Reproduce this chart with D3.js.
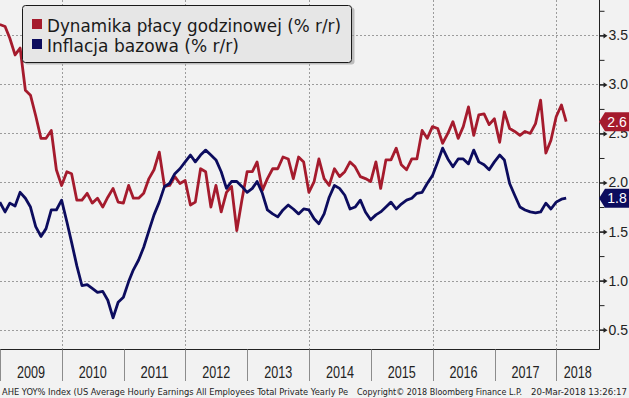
<!DOCTYPE html>
<html>
<head>
<meta charset="utf-8">
<script src="https://cdn.jsdelivr.net/npm/d3@7"></script>
<style>
  html, body { margin: 0; padding: 0; background: #f2f2f2; }
  svg { display: block; }
</style>
</head>
<body>
<svg id="chart" width="629" height="398"></svg>
<script>
// monthly observations, Dec 2008 .. Feb 2018 (plotted at month end)
const startYear = 2008, startMonth = 11;
const wages = [
  3.61, 3.59, 3.47, 3.30, 3.37, 2.94, 2.89, 2.68, 2.45, 2.45,
  2.53, 2.13, 1.97, 2.11, 2.09, 1.82, 1.82, 1.89, 1.79, 1.84,
  1.75, 1.85, 1.94, 1.80, 1.79, 1.97, 1.84, 1.84, 1.89, 2.04,
  2.13, 2.31, 1.96, 1.97, 2.06, 1.99, 2.02, 1.77, 1.80, 2.14,
  2.11, 1.75, 1.97, 1.70, 1.90, 1.96, 1.51, 1.82, 2.11, 2.11,
  2.21, 1.92, 2.04, 2.14, 2.14, 2.26, 2.24, 2.04, 2.26, 2.21,
  1.90, 2.01, 2.24, 2.04, 1.97, 2.14, 2.06, 2.11, 2.21, 2.16,
  2.06, 2.04, 2.01, 2.21, 1.94, 2.23, 2.23, 2.35, 2.18, 2.13,
  2.24, 2.24, 2.53, 2.45, 2.57, 2.55, 2.40, 2.50, 2.62, 2.45,
  2.57, 2.77, 2.48, 2.69, 2.70, 2.59, 2.65, 2.41, 2.72, 2.55,
  2.52, 2.48, 2.52, 2.50, 2.60, 2.84, 2.30, 2.43, 2.67, 2.79, 2.62
];
const coreCpi = [
  1.80, 1.70, 1.79, 1.76, 1.90, 1.84, 1.75, 1.55, 1.45, 1.53,
  1.72, 1.72, 1.82, 1.60, 1.39, 1.15, 0.95, 0.96, 0.92, 0.88,
  0.89, 0.80, 0.62, 0.78, 0.83, 0.99, 1.11, 1.21, 1.34, 1.51,
  1.67, 1.80, 1.96, 1.99, 2.09, 2.14, 2.21, 2.28, 2.21, 2.28,
  2.33, 2.28, 2.23, 2.11, 1.94, 2.01, 2.01, 1.96, 1.90, 1.94,
  2.01, 1.89, 1.72, 1.68, 1.65, 1.72, 1.77, 1.73, 1.68, 1.73,
  1.72, 1.63, 1.58, 1.68, 1.85, 1.97, 1.94, 1.87, 1.73, 1.75,
  1.82, 1.70, 1.62, 1.67, 1.70, 1.75, 1.80, 1.73, 1.78, 1.82,
  1.84, 1.89, 1.90, 1.99, 2.07, 2.21, 2.35, 2.24, 2.16, 2.24,
  2.24, 2.19, 2.33, 2.21, 2.18, 2.13, 2.21, 2.28, 2.23, 1.99,
  1.87, 1.75, 1.72, 1.70, 1.69, 1.70, 1.79, 1.73, 1.80, 1.83, 1.84
];
const seriesNames = ['Dynamika płacy godzinowej (% r/r)', 'Inflacja bazowa (% r/r)'];
const seriesColors = ['#a51b2d', '#0c0c5e'];
const yTicks = [0.5, 1.0, 1.5, 2.0, 2.5, 3.0, 3.5];
const yMinorTicks = [0.5, 0.75, 1.0, 1.25, 1.5, 1.75, 2.0, 2.25, 2.5, 2.75, 3.0, 3.25, 3.5, 3.75];
const years = [2009, 2010, 2011, 2012, 2013, 2014, 2015, 2016, 2017, 2018];
const footerLeft = 'AHE YOY% Index (US Average Hourly Earnings All Employees Total Private Yearly Pe';
const footerMid = 'Copyright\u00a9 2018 Bloomberg Finance L.P.';
const footerRight = '20-Mar-2018 13:26:17';

const plotRight = 599.5, plotBottom = 349.5;
const numFont = '"Liberation Sans", Arial, sans-serif';

const x = d3.scaleTime()
  .domain([new Date(2009, 0, 1), new Date(2018, 8, 10)])
  .range([0, 599]);
const y = d3.scaleLinear()
  .domain([0.3, 3.86])
  .range([349.3, 0]);

const monthEnd = i => new Date(startYear, startMonth + i + 1, 0);
const toPoints = arr => arr.map((v, i) => ({date: monthEnd(i), v}));
const series = [toPoints(wages), toPoints(coreCpi)];

const svg = d3.select('#chart');
svg.append('rect').attr('width', 629).attr('height', 398).attr('fill', '#f2f2f2');

// grid
svg.append('g')
  .selectAll('line')
  .data(yTicks)
  .enter()
  .append('line')
  .attr('x1', 0).attr('x2', plotRight)
  .attr('y1', d => Math.round(y(d)) + 0.5)
  .attr('y2', d => Math.round(y(d)) + 0.5)
  .attr('stroke', '#9c9c9c')
  .attr('stroke-dasharray', '2,2');

svg.append('g')
  .selectAll('line')
  .data(years.filter(yr => yr % 2 === 0))
  .enter()
  .append('line')
  .attr('x1', d => Math.round(x(new Date(d, 0, 1))) + 0.5)
  .attr('x2', d => Math.round(x(new Date(d, 0, 1))) + 0.5)
  .attr('y1', 0).attr('y2', plotBottom)
  .attr('stroke', '#9c9c9c')
  .attr('stroke-dasharray', '2,2');

// the lines
const line = d3.line().x(d => x(d.date)).y(d => y(d.v));
svg.append('g')
  .selectAll('path')
  .data(series)
  .enter()
  .append('path')
  .attr('d', line)
  .attr('fill', 'none')
  .attr('stroke', (_, i) => seriesColors[i])
  .attr('stroke-width', 2.8)
  .attr('stroke-linejoin', 'round');

// frame
svg.append('path')
  .attr('d', `M0,${plotBottom}H${plotRight}V0`)
  .attr('fill', 'none')
  .attr('stroke', '#222')
  .attr('stroke-width', 1);

// right axis
const minorAxis = d3.axisRight(y).tickValues(yMinorTicks).tickSize(5).tickFormat('');
const gMinor = svg.append('g').attr('transform', `translate(${plotRight},0)`).call(minorAxis);
gMinor.select('.domain').remove();
gMinor.selectAll('line').attr('stroke', '#222');

const majorAxis = d3.axisRight(y).tickValues(yTicks).tickSize(0).tickPadding(9)
  .tickFormat(d3.format('.1f'));
const gMajor = svg.append('g').attr('transform', `translate(${plotRight},0)`).call(majorAxis);
gMajor.select('.domain').remove();
gMajor.selectAll('.tick text')
  .attr('font-family', numFont)
  .attr('font-size', 14)
  .attr('fill', '#222');
gMajor.selectAll('.tick').append('path')
  .attr('d', 'M0,-0.6H4V-2.6L8,0L4,2.6V0.6H0Z')
  .attr('fill', '#222');

// last value tags (drawn over the axis labels, as in the original)
const tags = svg.append('g')
  .selectAll('g')
  .data(series)
  .enter()
  .append('g')
  .attr('transform', d => `translate(0,${y(d[d.length - 1].v)})`);
tags.append('path')
  .attr('d', 'M599,0L605,-9.5H629V9.5H605Z')
  .attr('fill', (_, i) => seriesColors[i]);
tags.append('text')
  .attr('x', 617).attr('dy', '0.36em')
  .attr('text-anchor', 'middle')
  .attr('font-family', numFont)
  .attr('font-size', 14)
  .attr('fill', '#fff')
  .text(d => d3.format('.1f')(d[d.length - 1].v));

// year strip
const strip = svg.append('g');
strip.selectAll('line')
  .data(years)
  .enter()
  .append('line')
  .attr('x1', d => Math.round(x(new Date(d, 0, 1))) + 0.5)
  .attr('x2', d => Math.round(x(new Date(d, 0, 1))) + 0.5)
  .attr('y1', plotBottom).attr('y2', 381)
  .attr('stroke', '#8c8c8c');
strip.selectAll('text')
  .data(years)
  .enter()
  .append('text')
  .attr('x', d => (Math.max(0, x(new Date(d, 0, 1))) + Math.min(599, x(new Date(d + 1, 0, 1)))) / 2 - 14)
  .attr('y', 378)
  .attr('textLength', 28)
  .attr('lengthAdjust', 'spacingAndGlyphs')
  .attr('font-family', numFont)
  .attr('font-size', 16)
  .attr('fill', '#222')
  .text(d => d);

// footer
const footer = [
  {t: footerLeft, x: 2, w: 346},
  {t: footerMid, x: 357, w: 165},
  {t: footerRight, x: 531, w: 96}
];
svg.append('g')
  .selectAll('text')
  .data(footer)
  .enter()
  .append('text')
  .attr('x', d => d.x)
  .attr('y', 395)
  .attr('textLength', d => d.w)
  .attr('lengthAdjust', 'spacingAndGlyphs')
  .attr('font-family', '"DejaVu Sans Condensed", "DejaVu Sans", sans-serif')
  .attr('font-size', 9)
  .attr('fill', '#222')
  .text(d => d.t);

// legend
const legend = svg.append('g');
legend.append('rect')
  .attr('x', 24.5).attr('y', 7.5).attr('width', 330).attr('height', 57).attr('rx', 3)
  .attr('fill', '#9a9a9a').attr('opacity', 0.6);
legend.append('rect')
  .attr('x', 22.5).attr('y', 5.5).attr('width', 329).attr('height', 57).attr('rx', 3)
  .attr('fill', '#e6e6e6').attr('stroke', '#1a1a1a');
const items = legend.selectAll('g.item')
  .data(seriesNames)
  .enter()
  .append('g')
  .attr('class', 'item')
  .attr('transform', (_, i) => `translate(32,${19 + i * 20})`);
items.append('rect')
  .attr('width', 10).attr('height', 10)
  .attr('fill', (_, i) => seriesColors[i]);
items.append('text')
  .attr('x', 15).attr('y', 13)
  .attr('font-family', '"DejaVu Sans Condensed", "DejaVu Sans", sans-serif')
  .attr('font-size', 18)
  .attr('textLength', (_, i) => i === 0 ? 294 : 192)
  .attr('lengthAdjust', 'spacingAndGlyphs')
  .attr('fill', '#1a1a1a')
  .text(d => d);
</script>
</body>
</html>
